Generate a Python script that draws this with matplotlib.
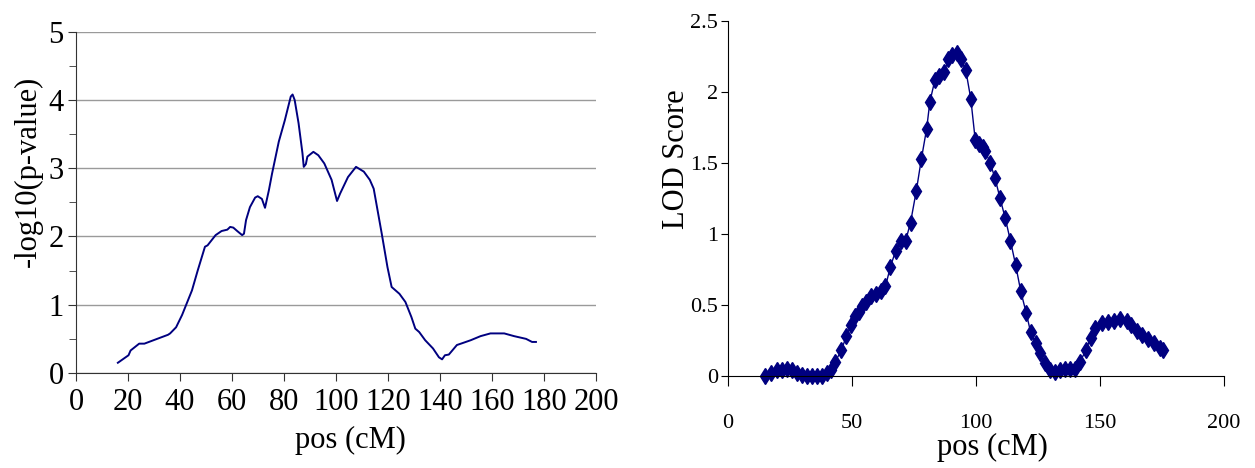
import matplotlib
matplotlib.use("Agg")
import matplotlib.pyplot as plt
from matplotlib.ticker import MultipleLocator

plt.rcParams['font.family'] = ['Liberation Serif', 'DejaVu Serif']

# Left panel: -log10(p-value) curve
pos_left = [16.1, 20.2, 21.0, 24.3, 26.3, 35.4, 36.2, 38.5, 40.8, 44.6, 46.8, 49.6, 50.6,
            53.7, 56.0, 58.2, 59.3, 60.5, 62.0, 63.9, 64.6, 65.4, 66.9, 68.9, 69.9, 71.5,
            72.7, 74.2, 75.4, 78.0, 80.3, 82.6, 83.3, 84.1, 85.6, 87.1, 87.6, 88.4, 89.0,
            91.3, 93.2, 95.5, 98.3, 100.4, 101.6, 104.6, 107.7, 110.7, 113.0, 114.5, 115.3,
            117.6, 119.8, 121.4, 122.9, 124.4, 126.7, 129.0, 130.5, 132.0, 134.3, 137.3,
            139.6, 140.8, 141.9, 143.4, 146.5, 148.8, 151.8, 155.6, 159.4, 164.7, 168.5,
            173.1, 175.4, 176.9]
logp = [0.15, 0.26, 0.33, 0.43, 0.43, 0.56, 0.58, 0.67, 0.85, 1.21, 1.50, 1.85, 1.87,
        2.02, 2.08, 2.10, 2.14, 2.13, 2.08, 2.02, 2.04, 2.24, 2.43, 2.57, 2.59, 2.55,
        2.42, 2.68, 2.92, 3.39, 3.70, 4.05, 4.08, 4.00, 3.66, 3.22, 3.02, 3.06, 3.17,
        3.24, 3.19, 3.07, 2.83, 2.52, 2.63, 2.87, 3.02, 2.95, 2.83, 2.70, 2.53,
        2.04, 1.55, 1.26, 1.21, 1.16, 1.04, 0.82, 0.65, 0.60, 0.48, 0.36,
        0.23, 0.20, 0.26, 0.27, 0.41, 0.44, 0.48, 0.54, 0.58, 0.58, 0.54,
        0.50, 0.455, 0.455]

# Right panel: LOD score
pos_right = [14.9, 17.3, 19.6, 21.6, 23.6, 25.7, 27.7, 29.7, 31.8, 33.8, 35.8, 37.8, 39.9,
             41.6, 43.2, 45.7, 47.7, 49.7, 51.4, 52.7, 54.1, 55.8, 57.8, 59.5, 61.5, 63.5,
             65.5, 67.6, 69.6, 71.6, 73.6, 75.9, 78.0, 80.1, 81.4, 83.4, 85.1, 87.2, 88.9,
             90.5, 92.2, 93.9, 95.9, 97.9, 99.7, 101.4, 102.7, 103.8, 105.7, 107.7, 109.7,
             111.8, 113.9, 116.0, 118.0, 120.3, 122.0, 124.0, 125.7, 127.7, 129.7, 131.8,
             133.8, 135.8, 137.8, 139.9, 141.9, 144.3, 146.2, 148.0, 150.8, 153.3, 155.7,
             158.2, 160.7, 162.6, 164.8, 166.9, 169.2, 171.8, 174.1, 175.5]
lod = [0.0, 0.02, 0.04, 0.04, 0.05, 0.04, 0.02, 0.01, 0.0, 0.0, 0.0, 0.0, 0.02,
       0.04, 0.10, 0.18, 0.28, 0.36, 0.42, 0.45, 0.49, 0.52, 0.56, 0.58, 0.60, 0.63,
       0.77, 0.88, 0.95, 0.95, 1.08, 1.30, 1.53, 1.74, 1.93, 2.08, 2.11, 2.14, 2.23,
       2.26, 2.27, 2.23, 2.15, 1.95, 1.66, 1.63, 1.61, 1.58, 1.50, 1.39, 1.25,
       1.11, 0.95, 0.78, 0.60, 0.44, 0.31, 0.23, 0.165, 0.09, 0.04, 0.03,
       0.04, 0.05, 0.05, 0.05, 0.10, 0.18, 0.27, 0.34, 0.375, 0.38, 0.39,
       0.40, 0.39, 0.36, 0.32, 0.29, 0.26, 0.23, 0.20, 0.18]

left_xticks = list(range(0, 201, 20))
right_xticks = list(range(0, 201, 50))
left_yticks = [0, 1, 2, 3, 4, 5]
right_yticks = [0, 0.5, 1, 1.5, 2, 2.5]
right_yticklabels = ['0', '0.5', '1', '1.5', '2', '2.5']

W, H = 1255, 468
fig = plt.figure(figsize=(W / 100, H / 100), dpi=100)

navy = '#000080'

# ---- Left panel ----
axL = fig.add_axes([76 / W, 1 - 373 / H, 520 / W, (373 - 31.7) / H])
axL.plot(pos_left, logp, color=navy, lw=1.4)
axL.set_xlim(0, 200)
axL.set_ylim(0, 5)
axL.set_xticks(left_xticks)
axL.set_xticklabels([str(v) for v in left_xticks])
axL.set_yticks(left_yticks)
axL.yaxis.set_minor_locator(MultipleLocator(0.5))
axL.grid(axis='y', which='major', color='#9a9a9a', lw=1)
axL.set_axisbelow(True)
for s in ['top', 'right']:
    axL.spines[s].set_visible(False)
for s in ['left', 'bottom']:
    axL.spines[s].set_color('#333333')
axL.tick_params(axis='both', which='major', labelsize=22, length=6, direction='out',
                color='#333333')
axL.tick_params(axis='x', pad=5)
axL.tick_params(axis='y', pad=3)
axL.tick_params(axis='y', which='minor', length=5, color='#333333')
axL.set_xlabel('pos (cM)', fontsize=22)
axL.xaxis.set_label_coords(0.527, -0.155)
axL.set_ylabel('-log10(p-value)', fontsize=22)
axL.yaxis.set_label_coords(-0.064, 0.59)

# ---- Right panel ----
axR = fig.add_axes([728 / W, 1 - 376 / H, 496 / W, (376 - 20.7) / H])
axR.plot(pos_right, lod, color=navy, lw=1, marker='d', ms=8, mfc=navy, mec=navy,
         clip_on=False)
axR.set_xlim(0, 200)
axR.set_ylim(0, 2.5)
axR.set_xticks(right_xticks)
axR.set_xticklabels([str(v) for v in right_xticks])
axR.set_yticks(right_yticks)
axR.set_yticklabels(right_yticklabels)
for s in ['top', 'right']:
    axR.spines[s].set_visible(False)
axR.tick_params(axis='both', labelsize=16, direction='out')
axR.tick_params(axis='x', length=7, pad=20)
axR.tick_params(axis='y', length=5, pad=2)
axR.set_xlabel('pos (cM)', fontsize=22)
axR.xaxis.set_label_coords(0.534, -0.16)
axR.set_ylabel('LOD Score', fontsize=22)
axR.yaxis.set_label_coords(-0.075, 0.61)

fig.savefig('out.png', dpi=100)
